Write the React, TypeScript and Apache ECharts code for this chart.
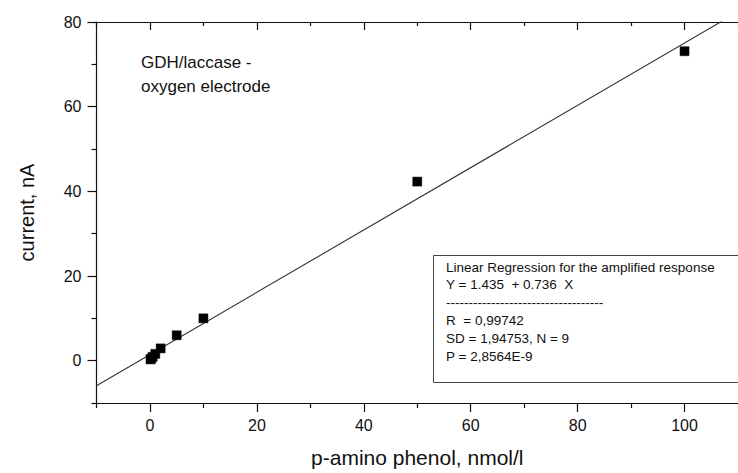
import React, { useEffect, useRef } from "react";
import * as echarts from "echarts";

const xValues = [0.1, 0.25, 0.5, 1, 2, 5, 10, 50, 100];
const yValues = [0.3, 0.5, 0.9, 1.6, 2.9, 6.0, 10.0, 42.3, 73.1];
const fitIntercept = 1.435;
const fitSlope = 0.736;
const fitX = [-10, 110];
const xMajorTicks = [0, 20, 40, 60, 80, 100];
const xMinorTicks = [-10, 10, 30, 50, 70, 90, 110];
const yMajorTicks = [0, 20, 40, 60, 80];
const yMinorTicks = [-10, 10, 30, 50, 70];
const boxLines = [
  "Linear Regression for the amplified response",
  "Y = 1.435  + 0.736  X",
  "-----------------------------------",
  "R  = 0,99742",
  "SD = 1,94753, N = 9",
  "P = 2,8564E-9",
];

const FONT = "'Liberation Sans', Arial, Helvetica, sans-serif";
const INK = "#111";

export default function App() {
  const ref = useRef<HTMLDivElement>(null);
  useEffect(() => {
    if (!ref.current) return;
    const chart = echarts.init(ref.current, undefined, { renderer: "svg" });
    const xCommon = { type: "value", min: -10, max: 110, splitLine: { show: false } };
    const yCommon = { type: "value", min: -10, max: 80, splitLine: { show: false } };
    const lineStyle = { color: INK, width: 1.2 };
    chart.setOption({
      animation: false,
      backgroundColor: "#fff",
      textStyle: { fontFamily: FONT },
      grid: { left: 96.5, top: 22, right: -10, bottom: 65, containLabel: false },
      xAxis: [
        {
          ...xCommon,
          position: "bottom",
          name: "p-amino phenol, nmol/l",
          nameLocation: "middle",
          nameGap: 44,
          nameTextStyle: { fontSize: 21, color: INK, fontFamily: FONT },
          axisLine: { show: true, onZero: false, lineStyle },
          axisTick: { show: true, inside: false, length: 9, customValues: xMajorTicks, lineStyle },
          axisLabel: { show: true, customValues: xMajorTicks, fontSize: 16, color: INK, margin: 14, fontFamily: FONT },
        },
        {
          ...xCommon,
          position: "bottom",
          axisLine: { show: false, onZero: false },
          axisTick: { show: true, inside: false, length: 5, customValues: xMinorTicks, lineStyle },
          axisLabel: { show: false },
        },
        {
          ...xCommon,
          position: "top",
          axisLine: { show: true, onZero: false, lineStyle },
          axisTick: { show: true, inside: true, length: 8, customValues: xMajorTicks, lineStyle },
          axisLabel: { show: false },
        },
        {
          ...xCommon,
          position: "top",
          axisLine: { show: false, onZero: false },
          axisTick: { show: true, inside: true, length: 4, customValues: xMinorTicks, lineStyle },
          axisLabel: { show: false },
        },
      ],
      yAxis: [
        {
          ...yCommon,
          position: "left",
          name: "current, nA",
          nameLocation: "middle",
          nameGap: 60,
          nameRotate: 90,
          nameTextStyle: { fontSize: 20, color: INK, fontFamily: FONT },
          axisLine: { show: true, onZero: false, lineStyle },
          axisTick: { show: true, inside: false, length: 9, customValues: yMajorTicks, lineStyle },
          axisLabel: { show: true, customValues: yMajorTicks, fontSize: 16, color: INK, margin: 15, fontFamily: FONT },
        },
        {
          ...yCommon,
          position: "left",
          axisLine: { show: false, onZero: false },
          axisTick: { show: true, inside: false, length: 5, customValues: yMinorTicks, lineStyle },
          axisLabel: { show: false },
        },
      ],
      series: [
        {
          type: "line",
          xAxisIndex: 0,
          yAxisIndex: 0,
          data: fitX.map((x) => [x, fitIntercept + fitSlope * x]),
          showSymbol: false,
          symbol: "none",
          clip: true,
          lineStyle: { color: "#333", width: 1.1 },
          z: 2,
        },
        {
          type: "scatter",
          xAxisIndex: 0,
          yAxisIndex: 0,
          data: xValues.map((x, i) => [x, yValues[i]]),
          symbol: "rect",
          symbolSize: 9,
          itemStyle: { color: "#000", opacity: 1, borderColor: "#000", borderWidth: 0.5 },
          z: 3,
        },
      ],
      graphic: [
        {
          type: "text",
          left: 141,
          top: 54,
          style: { text: "GDH/laccase -", fontSize: 17, fill: INK, fontFamily: FONT },
        },
        {
          type: "text",
          left: 141,
          top: 78,
          style: { text: "oxygen electrode", fontSize: 17, fill: INK, fontFamily: FONT },
        },
        {
          type: "rect",
          shape: { x: 433.5, y: 255.5, width: 320, height: 127 },
          style: { fill: "#fff", stroke: "#444", lineWidth: 1 },
          z: 10,
        },
        ...boxLines.map((t, i) => ({
          type: "text",
          x: 446,
          y: 267 + i * 17.8,
          style: {
            text: t,
            fontSize: 13.5,
            fill: INK,
            fontFamily: FONT,
            textVerticalAlign: "middle",
            verticalAlign: "middle",
          },
          z: 11,
        })),
      ],
    });
    return () => chart.dispose();
  }, []);
  return (
    <div
      ref={ref}
      style={{ position: "fixed", left: 0, top: 0, width: 738, height: 473, background: "#fff" }}
    />
  );
}
